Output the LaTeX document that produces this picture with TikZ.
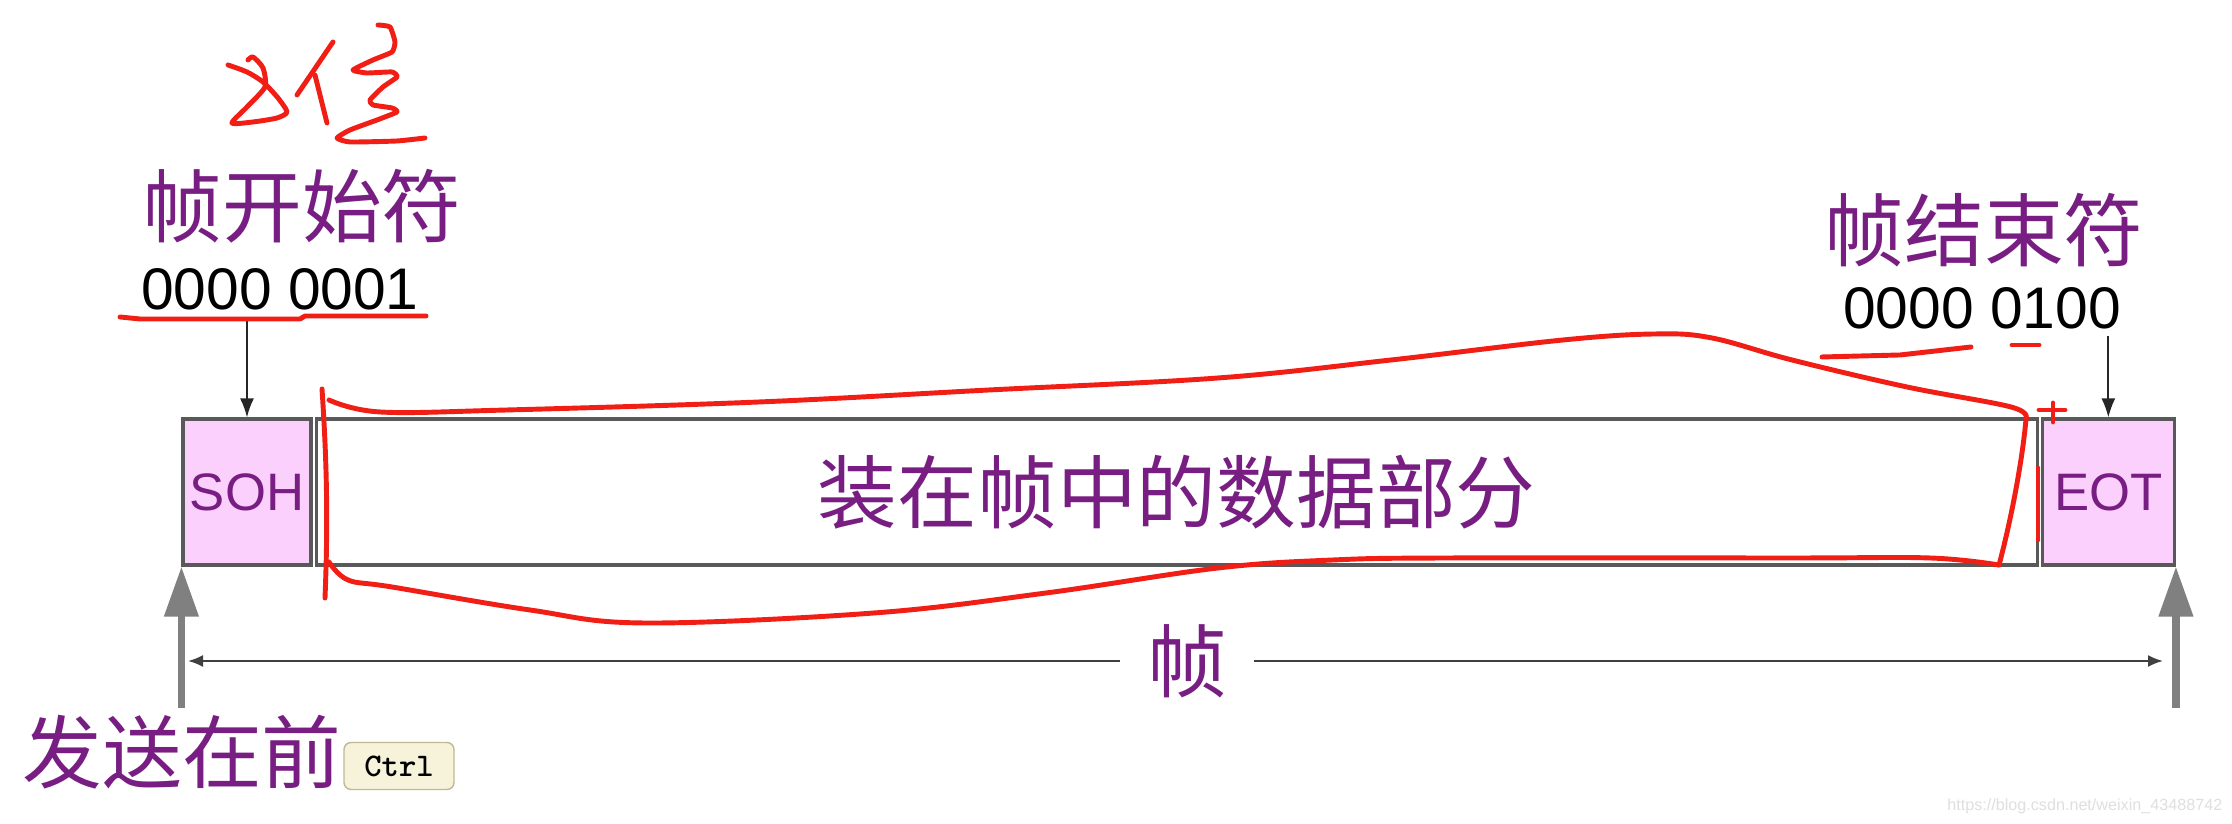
\documentclass[tikz,border=0pt]{standalone}
\usepackage{fontspec}
\setmainfont{Liberation Sans}
\newfontfamily\cjk{Noto Sans CJK SC}
\usetikzlibrary{arrows.meta,positioning}
\definecolor{framepurple}{RGB}{120,30,130}
\definecolor{fieldpink}{RGB}{252,208,252}
\definecolor{penred}{RGB}{240,30,20}
\definecolor{keycream}{RGB}{246,243,218}
\definecolor{keyedge}{RGB}{190,185,150}
\tikzset{
	field/.style={draw=black!65, line width=0.9pt, minimum height=1.46cm, inner sep=0pt, text=framepurple, font=\fontsize{15}{18}\selectfont},
	bigcjk/.style={font=\cjk\fontsize{22.7}{27}\selectfont, text=framepurple},
	bits/.style={font=\fontsize{16.7}{20}\selectfont, inner sep=2pt},
	pointer/.style={-{Latex[length=1.9mm,width=1.4mm]}, black!85, line width=0.5pt},
	sendarrow/.style={-{Triangle[length=5mm,width=3.3mm]}, gray, line width=2.1pt},
	dimline/.style={{Latex[length=1.5mm,width=1.2mm]}-{Latex[length=1.5mm,width=1.2mm]}, black!75, line width=0.6pt},
	ctrlkey/.style={draw=keyedge, fill=keycream, rounded corners=2pt, minimum width=1.10cm, minimum height=0.47cm, inner sep=0pt, font=\ttfamily\bfseries\fontsize{9.4}{11}\selectfont},
	redpen/.style={penred, line width=1.4pt, line cap=round, line join=round}
}

\begin{document}
\begin{tikzpicture}
		%%%%% START %%%%%
		\useasboundingbox (0, 0) rectangle (22.32, 8.24);
		\fill[white] (0, 0) rectangle (22.32, 8.24);
		
		\node[field, fill=fieldpink, minimum width=1.28cm] (soh) at (2.47, 3.32) {SOH};
		\node[field, minimum width=17.21cm, right=0.02cm of soh] (data) {\cjk\fontsize{22.7}{27}\selectfont 装在帧中的数据部分};
		\node[field, fill=fieldpink, minimum width=1.32cm, right=0.02cm of data] (eot) {EOT};
		
		\node[bigcjk] (startname) at (3.02, 6.18) {帧开始符};
		\node[bits] (startbits) at (2.80, 5.35) {0000 0001};
		\node[bigcjk] (endname) at (19.84, 5.94) {帧结束符};
		\node[bits] (endbits) at (19.82, 5.16) {0000 0100};
		
		\draw[pointer] (soh.north |- startbits.south) -- (soh.north);
		\draw[pointer] (eot.north |- endbits.south) -- (eot.north);
		
		\coordinate (sendleft) at ([yshift=-1.41cm]soh.south west);
		\coordinate (sendright) at ([yshift=-1.41cm]eot.south east);
		\draw[sendarrow] (sendleft) -- (soh.south west);
		\draw[sendarrow] (sendright) -- (eot.south east);
		
		\coordinate (dimleft) at (1.88, 1.63);
		\coordinate (dimright) at (21.63, 1.63);
		\draw[dimline] (dimleft) -- node[pos=0.506, fill=white, bigcjk, inner xsep=0.27cm, inner ysep=0pt] (framelabel) {帧} (dimright);
		
		\node[bigcjk] (sendfirst) at (1.82, 0.72) {发送在前};
		\node[ctrlkey] (ctrl) at (3.99, 0.58) {Ctrl};
		\node[anchor=east, inner sep=0pt, text=gray!25, font=\fontsize{4.6}{5}\selectfont] (mark) at (22.23, 0.18) {https://blog.csdn.net/weixin\_43488742};
		
		% red pen: 8位
		\draw[redpen] plot[smooth, tension=0.4] coordinates {(2.28, 7.59) (2.47, 7.52) (2.63, 7.42) (2.78, 7.26) (2.87, 7.12) (2.77, 7.06) (2.53, 7.02) (2.32, 7.01) (2.47, 7.17) (2.65, 7.37) (2.63, 7.56) (2.53, 7.67) (2.48, 7.64)};
		\draw[redpen] (3.33, 7.82) -- (2.97, 7.29);
		\draw[redpen] (3.15, 7.49) -- (3.27, 7.01);
		\draw[redpen] plot[smooth, tension=0.3] coordinates {(3.78, 7.99) (3.90, 7.97) (3.95, 7.82) (3.92, 7.72) (3.73, 7.64) (3.53, 7.54) (3.67, 7.51) (3.92, 7.52) (3.97, 7.47) (3.83, 7.37) (3.70, 7.24) (3.73, 7.19) (3.92, 7.16) (3.97, 7.12) (3.77, 7.04) (3.50, 6.94) (3.37, 6.86) (3.50, 6.82) (3.97, 6.83) (4.25, 6.86)};
		
		% red pen: underlines
		\draw[redpen] (1.20, 5.07) -- (1.40, 5.05) -- (3.00, 5.05) -- (3.05, 5.08) -- (4.26, 5.08);
		\draw[redpen] (18.22, 4.67) -- (19.0, 4.69) -- (19.71, 4.77);
		\draw[redpen] (20.12, 4.79) -- (20.39, 4.79);
		\draw[redpen] (20.39, 4.14) -- (20.65, 4.14) (20.53, 4.21) -- (20.53, 4.02);
		
		% red pen: loop round the data part
		\draw[redpen] (3.22, 4.35) .. controls (3.27, 3.6) and (3.28, 3.0) .. (3.25, 2.26);
		\draw[redpen] plot[smooth, tension=0.6] coordinates {(3.29, 4.24) (3.80, 4.12) (5.07, 4.14) (7.59, 4.22) (9.89, 4.34) (12.18, 4.46) (13.91, 4.64) (15.63, 4.84) (16.55, 4.90) (17.12, 4.86) (17.92, 4.64) (19.07, 4.37) (20.11, 4.17) (20.26, 4.05)};
		\draw[redpen] (20.26, 4.05) .. controls (20.22, 3.6) and (20.10, 3.0) .. (19.99, 2.59);
		\draw[redpen] plot[smooth, tension=0.6] coordinates {(19.99, 2.59) (19.30, 2.66) (17.92, 2.66) (14.48, 2.66) (13.33, 2.64) (12.18, 2.56) (10.46, 2.31) (8.74, 2.11) (6.44, 2.01) (5.30, 2.14) (3.92, 2.37) (3.48, 2.44) (3.29, 2.62)};
		\draw[redpen] (20.38, 3.56) -- (20.38, 2.84);
		%%%%% END %%%%%
\end{tikzpicture}
\end{document}
